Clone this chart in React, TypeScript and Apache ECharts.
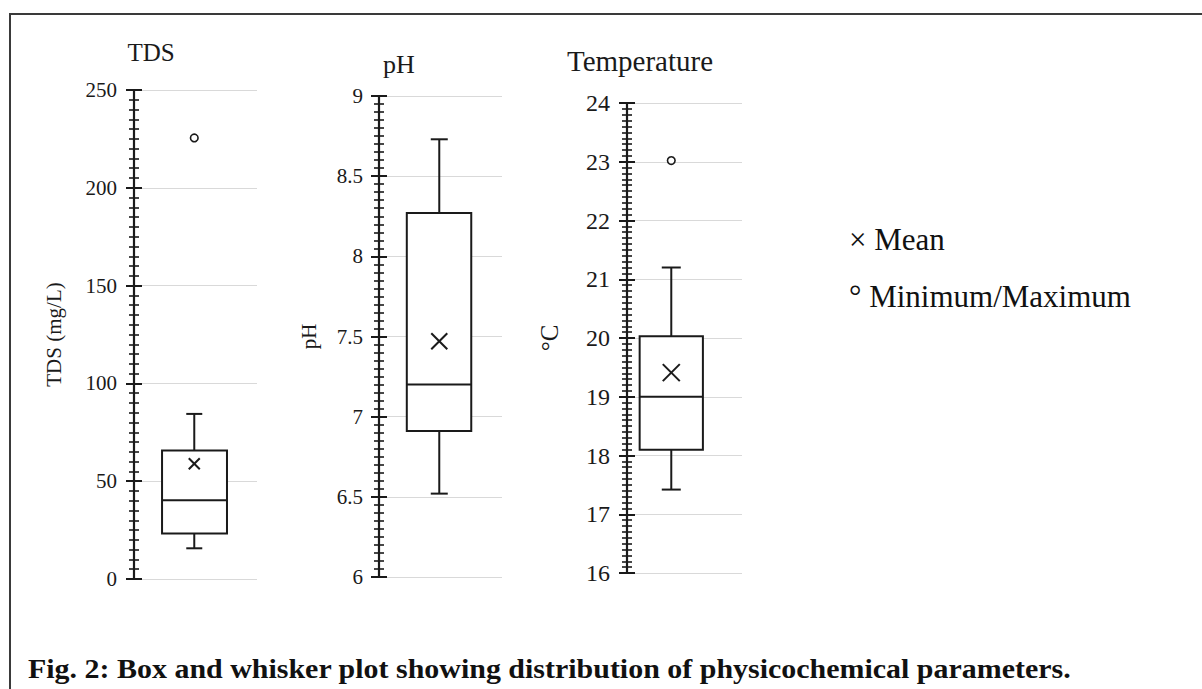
import React, { useEffect, useRef } from "react";
import * as echarts from "echarts";

// ---- data ----
const panelTitles = ["TDS", "pH", "Temperature"];
const axisNames = ["TDS (mg/L)", "pH", "°C"];
const yMins = [0, 6, 16];
const yMaxs = [250, 9, 24];
const yIntervals = [50, 0.5, 1];
// [lower whisker, Q1, median, Q3, upper whisker]
const tdsBox = [15.7, 23.2, 40.2, 65.7, 84.4];
const phBox = [6.52, 6.91, 7.2, 8.27, 8.73];
const tempBox = [17.42, 18.1, 19.0, 20.03, 21.2];
const boxes = [tdsBox, phBox, tempBox];
const means = [58.9, 7.47, 19.41];
const tdsOutliers = [225.5];
const phOutliers: number[] = [];
const tempOutliers = [23.02];
const outliers = [tdsOutliers, phOutliers, tempOutliers];
const legendLabels = ["× Mean", "° Minimum/Maximum"];
const caption = "Fig. 2: Box and whisker plot showing distribution of physicochemical parameters.";

// ---- layout (styling only) ----
const grids = [
  { left: 134, top: 90, width: 123, height: 489 },
  { left: 379, top: 96, width: 123, height: 481 },
  { left: 627, top: 103, width: 115, height: 470 },
];
// box geometry in fractions of the grid width, caps / markers in px
const boxGeom = [
  { l: 0.228, r: 0.756, c: 0.49, cap: 8, mark: 5.5 },
  { l: 0.226, r: 0.75, c: 0.49, cap: 8.5, mark: 8 },
  { l: 0.11, r: 0.66, c: 0.385, cap: 9.5, mark: 8.5 },
];
const labelFont = [21, 21, 24];
const labelMargin = [17, 16, 17];
const nameGaps = [70, 60, 65];
const nameFont = [21, 21, 25];
const SERIF = "'Liberation Serif', 'Times New Roman', serif";
const INK = "#1a1a1a";

export default function App() {
  const ref = useRef<HTMLDivElement>(null);
  useEffect(() => {
    if (!ref.current) return;
    const chart = echarts.init(ref.current, undefined, { renderer: "svg" });

    const xAxis: any[] = [];
    const yAxis: any[] = [];
    const series: any[] = [];

    grids.forEach((g, i) => {
      xAxis.push({ type: "value", gridIndex: i, min: 0, max: 1, show: false });
      const common = {
        type: "value",
        gridIndex: i,
        min: yMins[i],
        max: yMaxs[i],
        interval: yIntervals[i],
        position: "left",
      };
      yAxis.push({
        ...common,
        name: axisNames[i],
        nameLocation: "middle",
        nameRotate: 90,
        nameGap: nameGaps[i],
        nameTextStyle: { fontFamily: SERIF, fontSize: nameFont[i], color: INK },
        axisLine: { show: true, lineStyle: { color: INK, width: 2.2 } },
        axisTick: { show: true, length: 8, lineStyle: { color: INK, width: 2 } },
        minorTick: { show: true, splitNumber: 10, length: 5, lineStyle: { color: INK, width: 1.6 } },
        axisLabel: {
          fontFamily: SERIF,
          fontSize: labelFont[i],
          color: INK,
          margin: labelMargin[i],
        },
        splitLine: { show: true, lineStyle: { color: "#d9d9d9", width: 1 } },
      });
      yAxis.push({
        ...common,
        axisLine: { show: false },
        axisTick: { show: true, inside: true, length: 8, lineStyle: { color: INK, width: 2 } },
        minorTick: { show: true, splitNumber: 10, length: 5, lineStyle: { color: INK, width: 1.6 } },
        axisLabel: { show: false },
        splitLine: { show: false },
      });

      const geom = boxGeom[i];
      // box + whiskers
      series.push({
        type: "custom",
        xAxisIndex: i,
        yAxisIndex: i * 2,
        data: [boxes[i]],
        renderItem: (params: any, api: any) => {
          const lo = api.value(0), q1 = api.value(1), md = api.value(2), q3 = api.value(3), hi = api.value(4);
          const p = (x: number, y: number) => api.coord([x, y]);
          const st = { stroke: INK, lineWidth: 2, fill: "none" };
          const tl = p(geom.l, q3), br = p(geom.r, q1);
          const cx = p(geom.c, lo)[0];
          const line = (x1: number, y1: number, x2: number, y2: number) => ({
            type: "line",
            shape: { x1, y1, x2, y2 },
            style: st,
          });
          const yLo = p(geom.c, lo)[1], yQ1 = br[1], yMd = p(geom.c, md)[1], yQ3 = tl[1], yHi = p(geom.c, hi)[1];
          return {
            type: "group",
            children: [
              line(cx, yQ3, cx, yHi),
              line(cx, yQ1, cx, yLo),
              line(cx - geom.cap, yHi, cx + geom.cap, yHi),
              line(cx - geom.cap, yLo, cx + geom.cap, yLo),
              {
                type: "rect",
                shape: { x: tl[0], y: tl[1], width: br[0] - tl[0], height: br[1] - tl[1] },
                style: { stroke: INK, lineWidth: 2, fill: "#fff" },
              },
              line(tl[0], yMd, br[0], yMd),
            ],
          };
        },
      });
      // mean marker
      series.push({
        type: "custom",
        xAxisIndex: i,
        yAxisIndex: i * 2,
        data: [[means[i]]],
        z: 5,
        renderItem: (params: any, api: any) => {
          const c = api.coord([geom.c, api.value(0)]);
          const h = geom.mark;
          const st = { stroke: INK, lineWidth: 2 };
          return {
            type: "group",
            children: [
              { type: "line", shape: { x1: c[0] - h, y1: c[1] - h, x2: c[0] + h, y2: c[1] + h }, style: st },
              { type: "line", shape: { x1: c[0] - h, y1: c[1] + h, x2: c[0] + h, y2: c[1] - h }, style: st },
            ],
          };
        },
      });
      // outliers
      series.push({
        type: "custom",
        xAxisIndex: i,
        yAxisIndex: i * 2,
        data: outliers[i].map((v) => [v]),
        z: 5,
        renderItem: (params: any, api: any) => {
          const c = api.coord([geom.c, api.value(0)]);
          return {
            type: "circle",
            shape: { cx: c[0], cy: c[1], r: 3.8 },
            style: { stroke: INK, lineWidth: 1.6, fill: "#fff" },
          };
        },
      });
    });

    const titlePos = [
      { x: 151, y: 52, size: 25 },
      { x: 399, y: 64, size: 26 },
      { x: 640, y: 61, size: 29 },
    ];

    const graphic: any[] = [
      // frame
      { type: "line", shape: { x1: 9, y1: 14, x2: 1202, y2: 14 }, style: { stroke: "#3a3a3a", lineWidth: 2 } },
      { type: "line", shape: { x1: 10, y1: 13, x2: 10, y2: 689 }, style: { stroke: "#3a3a3a", lineWidth: 2 } },
      ...panelTitles.map((t, i) => ({
        type: "text",
        x: titlePos[i].x,
        y: titlePos[i].y,
        style: {
          text: t,
          fontFamily: SERIF,
          fontSize: titlePos[i].size,
          fill: INK,
          align: "center",
          verticalAlign: "middle",
        },
      })),
      ...legendLabels.map((t, i) => ({
        type: "text",
        x: 849,
        y: i === 0 ? 239 : 296,
        style: { text: t, fontFamily: SERIF, fontSize: 31, fill: "#111", verticalAlign: "middle" },
      })),
      {
        type: "text",
        x: 28,
        y: 668,
        scaleX: 1.07,
        style: {
          text: caption,
          fontFamily: SERIF,
          fontWeight: "bold",
          fontSize: 28,
          fill: "#111",
          verticalAlign: "middle",
        },
      },
    ];

    chart.setOption({
      animation: false,
      backgroundColor: "#fff",
      grid: grids.map((g) => ({ ...g, containLabel: false })),
      xAxis,
      yAxis,
      series,
      graphic,
    });
    return () => chart.dispose();
  }, []);
  return (
    <div
      ref={ref}
      style={{ position: "absolute", left: 0, top: 0, width: 1202, height: 689 }}
    />
  );
}
